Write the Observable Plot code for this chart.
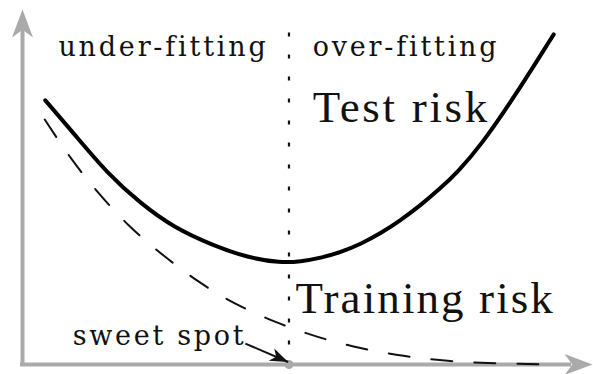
<!DOCTYPE html>
<html><head><meta charset="utf-8">
<script src="https://cdn.jsdelivr.net/npm/d3@7"></script>
<script src="https://cdn.jsdelivr.net/npm/@observablehq/plot@0.6"></script>
<style>
html,body{margin:0;padding:0;background:#fff}
svg{display:block}
</style></head><body><div id="chart"></div>
<script>
// Test risk (solid)
const testComplexity = [0.40,0.90,1.49,2.07,2.65,3.35,3.95,4.53,4.88,5.23,5.58,5.93,6.28,6.63,6.98,7.33,7.63,8.04,8.61,9.32];
const testRisk       = [7.44,6.51,5.38,4.54,3.86,3.35,3.01,2.86,2.90,3.00,3.16,3.39,3.69,4.06,4.48,4.96,5.41,6.17,7.49,9.30];
// Training risk (dashed)
const trainComplexity = [0.39,0.84,1.33,1.86,2.46,3.12,3.70,4.44,5.18,5.93,6.68,7.46,8.25,9.32];
const trainRisk       = [6.90,5.80,4.82,3.89,3.07,2.28,1.72,1.18,0.76,0.45,0.23,0.09,0.03,0.00];
// sweet spot
const sweetSpot = 4.675;
const sweetArrowFrom = [3.91, 0.59];
const sweetArrowTo = [4.66, 0.07];
// labels
const regionLabels = ["under-fitting", "over-fitting"];
const regionLabelX = [0.63, 5.09];
const regionLabelY = [8.70, 8.70];
const curveLabels = ["Test risk", "Training risk"];
const curveLabelX = [5.09, 4.79];
const curveLabelY = [6.82, 1.46];
const sweetLabel = ["sweet spot"];
const sweetLabelX = [0.88];
const sweetLabelY = [0.56];

const testData = testComplexity.map((x, i) => ({x, y: testRisk[i]}));
const trainData = trainComplexity.map((x, i) => ({x, y: trainRisk[i]}));

// stealth arrowhead symbol with its tip at the anchor point, pointing up
const stealth = {
  draw(context, size) {
    const k = Math.sqrt(size / Math.PI);
    const L = 2.8 * k, w = 1.05 * k, n = 0.72 * L;
    context.moveTo(0, 0);
    context.lineTo(w, L);
    context.lineTo(0, n);
    context.lineTo(-w, L);
    context.closePath();
  }
};
const gray = "#aaaaaa";

const chart = Plot.plot({
  width: 593, height: 374,
  marginLeft: 22, marginRight: 1, marginTop: 9, marginBottom: 10,
  x: {domain: [0, 10], axis: null},
  y: {domain: [0, 10], axis: null},
  marks: [
    // axes
    Plot.ruleX([0], {y1: 0, y2: 9.5, stroke: gray, strokeWidth: 4, strokeLinecap: "square"}),
    Plot.ruleY([0], {x1: 0, x2: 9.6, stroke: gray, strokeWidth: 4, strokeLinecap: "square"}),
    Plot.dot([{x: 0, y: 10}], {x: "x", y: "y", symbol: stealth, r: 10, fill: gray}),
    Plot.dot([{x: 10, y: 0}], {x: "x", y: "y", symbol: stealth, r: 10, fill: gray, rotate: 90}),
    // divider
    Plot.ruleX([sweetSpot], {y1: 0.55, y2: 9.45, stroke: "#111", strokeWidth: 2.2, strokeDasharray: "4,18"}),
    // curves
    Plot.line(trainData, {x: "x", y: "y", curve: "basis", stroke: "#111", strokeWidth: 2, strokeDasharray: "21,22"}),
    Plot.line(testData, {x: "x", y: "y", curve: "basis", stroke: "#000", strokeWidth: 4}),
    // sweet spot
    Plot.dot([{x: sweetSpot, y: 0}], {x: "x", y: "y", r: 4.5, fill: gray}),
    Plot.link([0], {x1: sweetArrowFrom[0], y1: sweetArrowFrom[1], x2: sweetArrowTo[0], y2: sweetArrowTo[1], stroke: "#111", strokeWidth: 2}),
    Plot.dot([{x: sweetArrowTo[0], y: sweetArrowTo[1]}], {x: "x", y: "y", symbol: stealth, r: 6.5, fill: "#111", rotate: 114}),
    // labels
    Plot.text(regionLabels, {x: regionLabelX, y: regionLabelY, text: d => d, textAnchor: "start", lineAnchor: "bottom",
      fontFamily: "DejaVu Serif", fontSize: 27, fill: "#111"}),
    Plot.text(sweetLabel, {x: sweetLabelX, y: sweetLabelY, text: d => d, textAnchor: "start", lineAnchor: "bottom",
      fontFamily: "DejaVu Serif", fontSize: 27, fill: "#111"}),
    Plot.text(curveLabels, {x: curveLabelX, y: curveLabelY, text: d => d, textAnchor: "start", lineAnchor: "bottom",
      fontFamily: "Liberation Serif", fontSize: 45, fill: "#111"})
  ]
});
const spacing = {"under-fitting": 2.8, "over-fitting": 2.8, "sweet spot": 2.7, "Test risk": 2.7, "Training risk": 2.1};
chart.querySelectorAll("text").forEach(t => {
  const s = spacing[t.textContent];
  if (s != null) t.setAttribute("letter-spacing", s + "px");
});
document.getElementById("chart").append(chart);
</script>
</body></html>
